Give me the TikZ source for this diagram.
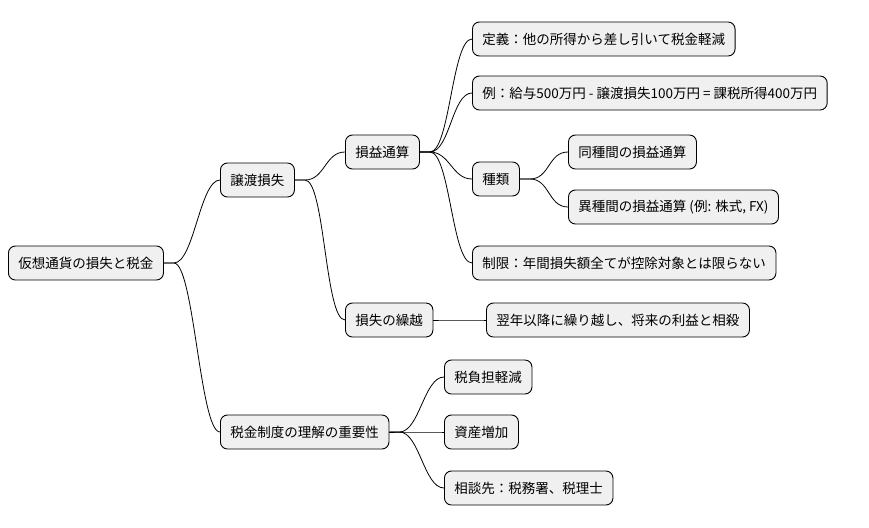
\documentclass[tikz,border=0pt]{standalone}
\usepackage{fontspec}
\setmainfont{Noto Sans CJK JP}
\begin{document}
\begin{tikzpicture}[x=1pt,y=-1pt,
  box/.style={draw=black,line width=0.9pt,fill=black!6,rounded corners=7pt,minimum height=34pt,inner xsep=10pt,anchor=west,font=\fontsize{13.5}{15}\selectfont},
  link/.style={line width=0.8pt}]
\useasboundingbox (0,0) rectangle (869,527);
\node[box] (root) at (8,263) {仮想通貨の損失と税金};
\node[box] (jt) at (220,180) {譲渡損失};
\node[box] (zs) at (220,432) {税金制度の理解の重要性};
\node[box] (st) at (345,152) {損益通算};
\node[box] (kr) at (345,320) {損失の繰越};
\node[box] (d1) at (472,39) {定義：他の所得から差し引いて税金軽減};
\node[box] (d2) at (472,93) {例：給与500万円 - 譲渡損失100万円 = 課税所得400万円};
\node[box] (d3) at (472,179) {種類};
\node[box] (e1) at (568,152) {同種間の損益通算};
\node[box] (e2) at (568,207) {異種間の損益通算 (例: 株式, FX)};
\node[box] (d4) at (472,263) {制限：年間損失額全てが控除対象とは限らない};
\node[box] (k1) at (486,320) {翌年以降に繰り越し、将来の利益と相殺};
\node[box] (z1) at (444,377) {税負担軽減};
\node[box] (z2) at (444,432) {資産増加};
\node[box] (z3) at (444,488) {相談先：税務署、税理士};
\foreach \a/\b in {root/jt,root/zs,jt/st,jt/kr,st/d1,st/d2,st/d3,st/d4,d3/e1,d3/e2,kr/k1,zs/z1,zs/z2,zs/z3}
  \draw[link] (\a.east) -- ++(10,0) .. controls +(20,0) and +(-20,0) .. (\b.west);
\end{tikzpicture}
\end{document}
